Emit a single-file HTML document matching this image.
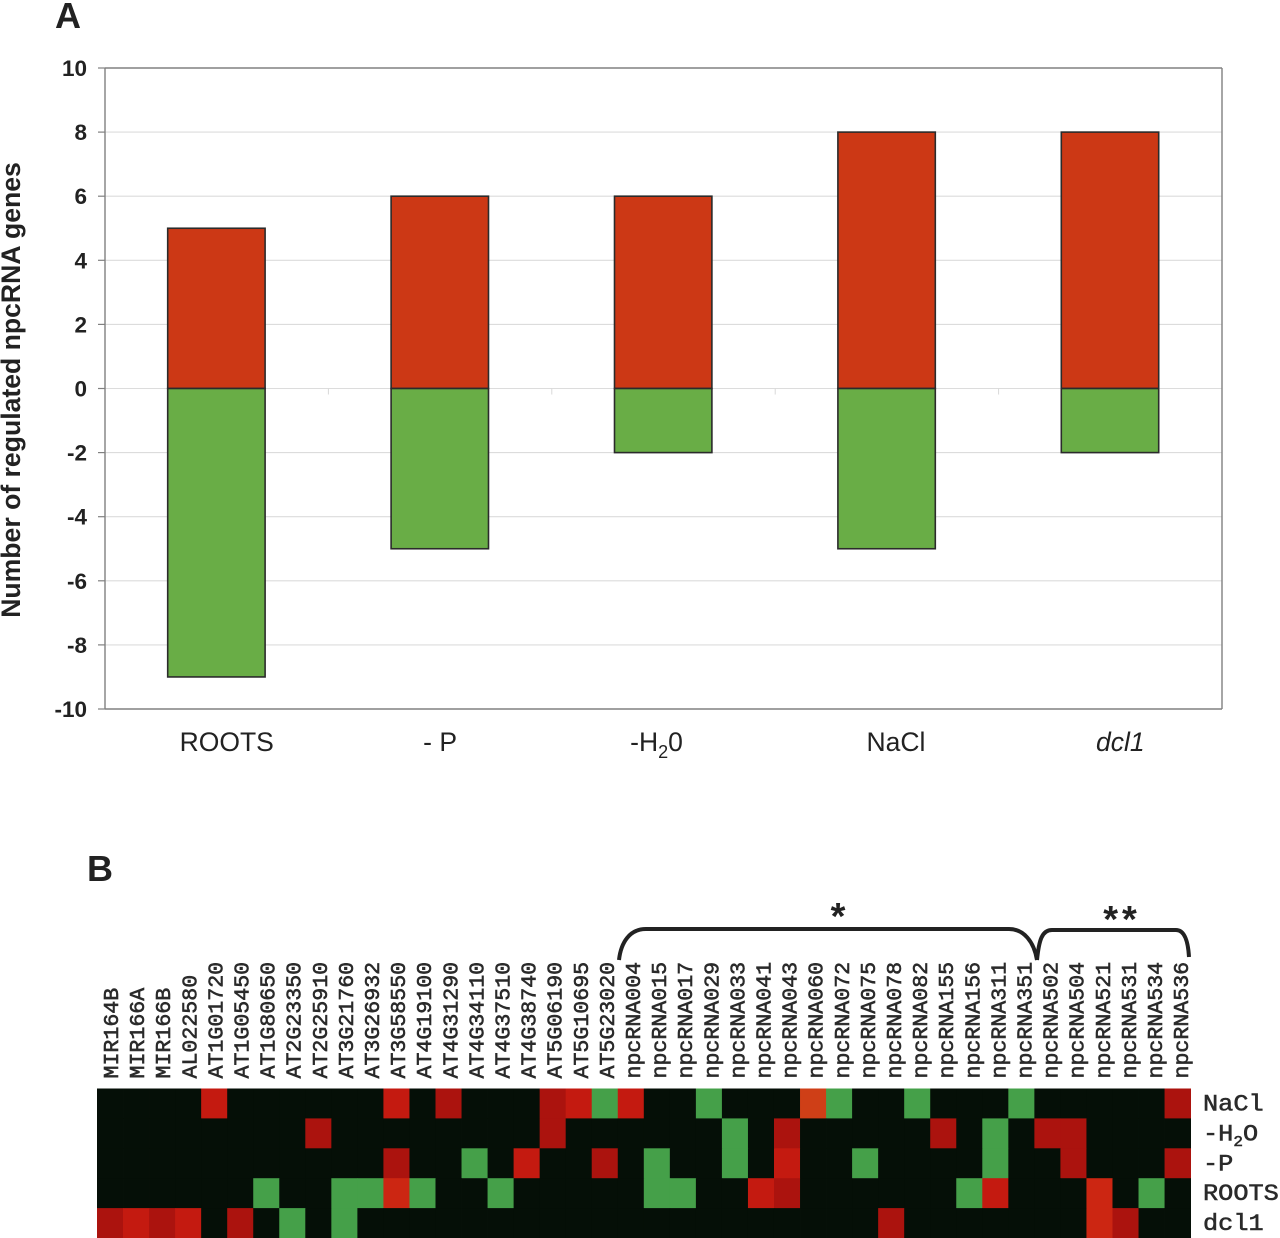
<!DOCTYPE html>
<html lang="en">
<head>
<meta charset="utf-8">
<title>Regulated npcRNA genes</title>
<style>
html,body{margin:0;padding:0;background:#fff;width:1280px;height:1238px;overflow:hidden}
svg{display:block}
text{font-family:"Liberation Sans",sans-serif;fill:#222}
.mono{font-family:"Liberation Mono",monospace;fill:#2a2a2a}
</style>
</head>
<body>
<svg id="fig" width="1280" height="1238" viewBox="0 0 1280 1238" xmlns="http://www.w3.org/2000/svg">
  <text x="55" y="28" font-size="36" font-weight="bold">A</text>
  <text x="87" y="881" font-size="36" font-weight="bold">B</text>
  <text transform="translate(20,390) rotate(-90)" text-anchor="middle" font-size="26.6" font-weight="bold">Number of regulated npcRNA genes</text>
  <g id="chart"></g>
  <g id="heat"></g>
  <path d="M619 960 C621 942 630 929 646 929 L1009 929 C1024 929 1034 942 1037 960" fill="none" stroke="#222" stroke-width="4"/>
  <path d="M1037 960 C1039 940 1042 930 1052 930 L1176 930 C1184 930 1188 940 1189 957" fill="none" stroke="#222" stroke-width="4"/>
  <text x="838" y="929" font-size="38" font-weight="bold" text-anchor="middle">*</text>
  <text x="1122" y="932" font-size="38" font-weight="bold" text-anchor="middle" letter-spacing="4">**</text>
</svg>
<script>
// Panel A data
const categories = ["ROOTS", "- P", "-H|2|0", "NaCl", "dcl1"];
const upRegulated = [5, 6, 6, 8, 8];
const downRegulated = [-9, -5, -2, -5, -2];
const yTicks = [10, 8, 6, 4, 2, 0, -2, -4, -6, -8, -10];

// Panel B data
const geneLabels = ["MIR164B","MIR166A","MIR166B","AL022580","AT1G01720","AT1G05450","AT1G80650","AT2G23350","AT2G25910","AT3G21760","AT3G26932","AT3G58550","AT4G19100","AT4G31290","AT4G34110","AT4G37510","AT4G38740","AT5G06190","AT5G10695","AT5G23020","npcRNA004","npcRNA015","npcRNA017","npcRNA029","npcRNA033","npcRNA041","npcRNA043","npcRNA060","npcRNA072","npcRNA075","npcRNA078","npcRNA082","npcRNA155","npcRNA156","npcRNA311","npcRNA351","npcRNA502","npcRNA504","npcRNA521","npcRNA531","npcRNA534","npcRNA536"];
const conditionLabels = ["NaCl", "-H|2|O", "-P", "ROOTS", "dcl1"];
const naclValues = [0,0,0,0,1.5,0,0,0,0,0, 0,1.5,0,1,0,0,0,1,1.5,-1, 1.5,0,0,-1,0,0,0,3,-1,0, 0,-1,0,0,0,-1,0,0,0,0, 0,1];
const h2oValues = [0,0,0,0,0,0,0,0,1,0, 0,0,0,0,0,0,0,1,0,0, 0,0,0,0,-1,0,1,0,0,0, 0,0,1,0,-1,0,1,1,0,0, 0,0];
const pValues = [0,0,0,0,0,0,0,0,0,0, 0,1,0,0,-1,0,1.5,0,0,1, 0,-1,0,0,-1,0,1.5,0,0,-1, 0,0,0,0,-1,0,0,1,0,0, 0,1];
const rootsValues = [0,0,0,0,0,0,-1,0,0,-1, -1,2,-1,0,0,-1,0,0,0,0, 0,-1,-1,0,0,1.5,1,0,0,0, 0,0,0,-1,1.5,0,0,0,2,0, -1,0];
const dcl1Values = [1,1.5,1,1.5,0,1,0,-1,0,-1, 0,0,0,0,0,0,0,0,0,0, 0,0,0,0,0,0,0,0,0,0, 1,0,0,0,0,0,0,0,2,1, 0,0];
const heatRows = [naclValues, h2oValues, pValues, rootsValues, dcl1Values];

const NS = "http://www.w3.org/2000/svg";
function make(tag, parent, attrs, text) {
  const el = document.createElementNS(NS, tag);
  for (const k in attrs) el.setAttribute(k, attrs[k]);
  if (text !== undefined) el.textContent = text;
  parent.appendChild(el);
  return el;
}
// writes "a|b|c" as a with subscript b then c
function fillSub(el, label, dropEm, size) {
  const parts = label.split("|");
  if (parts.length === 1) { el.textContent = label; return; }
  make("tspan", el, {}, parts[0]);
  make("tspan", el, {dy: dropEm, "font-size": size}, parts[1]);
  make("tspan", el, {dy: -dropEm}, parts[2]);
}

// ---------- Panel A ----------
const plotLeft = 105, plotRight = 1222, plotTop = 68, plotBottom = 709;
const yMax = 10, yMin = -10;
function yScale(v) { return plotTop + (yMax - v) / (yMax - yMin) * (plotBottom - plotTop); }
function bandCenter(i) { return plotLeft + (i + 0.5) * (plotRight - plotLeft) / categories.length; }
function bandEdge(i) { return plotLeft + i * (plotRight - plotLeft) / categories.length; }
const barWidth = 97.4;
const chart = document.getElementById("chart");

yTicks.forEach(function (t) {
  const isEdge = t === yMax || t === yMin;
  const grid = make("line", chart, {x1: plotLeft, x2: plotRight, y1: yScale(t), y2: yScale(t), stroke: isEdge ? "#808080" : "#dcdcdc", "stroke-width": isEdge ? 1.4 : 1.1});
  
  
  const tick = make("line", chart, {x1: plotLeft - 7, x2: plotLeft, y1: yScale(t), y2: yScale(t), stroke: "#808080", "stroke-width": 1.2});
  
  
  const lab = make("text", chart, {x: 87, y: yScale(t) + 8, "text-anchor": "end", "font-size": 22.5, "font-weight": "bold"}, String(t));
  
  
});

const yAxisLine = make("line", chart, {x1: plotLeft, x2: plotLeft, y1: plotTop, y2: plotBottom, stroke: "#808080", "stroke-width": 1.4});


const rightLine = make("line", chart, {x1: plotRight, x2: plotRight, y1: plotTop, y2: plotBottom, stroke: "#808080", "stroke-width": 1.4});



for (let i = 1; i < categories.length; i++) {
  const catTick = make("line", chart, {x1: bandEdge(i), x2: bandEdge(i), y1: yScale(0), y2: yScale(0) + 6, stroke: "#d8d8d8", "stroke-width": 1});
  
  
}

function drawBar(i, value, fill) {
  const top = Math.min(yScale(value), yScale(0));
  const h = Math.abs(yScale(value) - yScale(0));
  return make("rect", chart, {x: bandCenter(i) - 49, y: top, width: barWidth, height: h, fill: fill, stroke: "#2b2b2b", "stroke-width": 1.6});
}
categories.forEach(function (c, i) {
  const upBar = drawBar(i, upRegulated[i], "#cc3815");
  
  
  const downBar = drawBar(i, downRegulated[i], "#69ad46");
  
  
  const labelNudge = [10, 0, -7, 9, 10][i];
  const lab = make("text", chart, {x: bandCenter(i) + labelNudge, y: 751, "text-anchor": "middle", "font-size": 26.5});
  if (c === "dcl1") lab.setAttribute("font-style", "italic");
  fillSub(lab, c, 7, 18);
  
  
});

// ---------- Panel B ----------
const heatLeft = 97, heatRight = 1190.6, heatTop = 1088.5, heatBottom = 1238;
const cellW = (heatRight - heatLeft) / geneLabels.length;
const cellH = (heatBottom - heatTop) / heatRows.length;
function colX(j) { return heatLeft + j * cellW; }
function rowY(r) { return heatTop + r * cellH; }
function cellColor(v) {
  if (v === 0) return "#050f07";
  if (v < 0) return "#45a049";
  if (v >= 3) return "#cf3f17";
  if (v >= 2) return "#cc2612";
  if (v >= 1.5) return "#c41a10";
  return "#ab130e";
}
const heat = document.getElementById("heat");
heatRows.forEach(function (row, r) {
  row.forEach(function (v, j) {
    const cell = make("rect", heat, {x: colX(j), y: rowY(r), width: cellW + 0.4, height: cellH + 0.4, fill: cellColor(v)});
    
    
  });
});
geneLabels.forEach(function (g, j) {
  const x = 111 + j * 26.1 + 7;
  const lab = make("text", heat, {transform: "translate(" + x + ",1078.5) rotate(-90)", "font-size": 21.6, "class": "mono", stroke: "#2a2a2a", "stroke-width": 0.6}, g);
  
  
});
conditionLabels.forEach(function (c, r) {
  const lab = make("text", heat, {transform: "translate(1203," + (rowY(r) + cellH / 2 + 7) + ") scale(1,0.9)", "font-size": 25.3, "class": "mono", stroke: "#2a2a2a", "stroke-width": 0.6});
  fillSub(lab, c, 6, 16);
  
  
});
</script>
</body>
</html>
